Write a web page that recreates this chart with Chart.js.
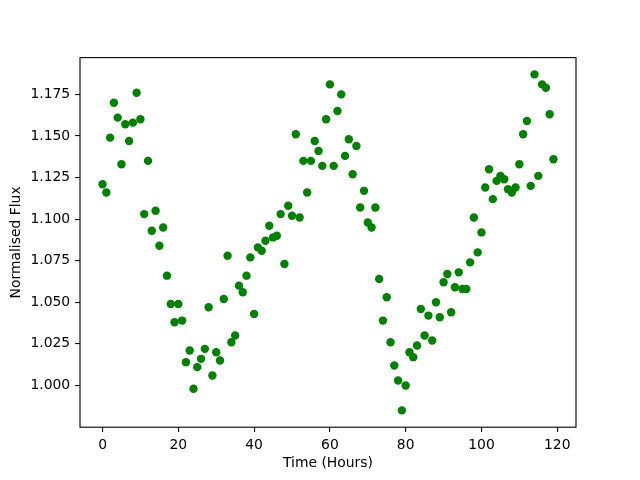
<!DOCTYPE html>
<html>
<head>
<meta charset="utf-8">
<script src="https://cdn.jsdelivr.net/npm/chart.js@4"></script>
<style>
  html, body { margin: 0; padding: 0; background: #fff; }
  #wrap { width: 640px; height: 480px; }
</style>
</head>
<body>
<div id="wrap"><canvas id="fluxChart" width="640" height="480"></canvas></div>
<script>
// Time in hours, one reading per hour
const hours = [
    0, 1, 2, 3, 4, 5, 6, 7, 8, 9, 10, 11, 12, 13, 14, 15, 16, 17, 18, 19,
    20, 21, 22, 23, 24, 25, 26, 27, 28, 29, 30, 31, 32, 33, 34, 35, 36, 37, 38, 39,
    40, 41, 42, 43, 44, 45, 46, 47, 48, 49, 50, 51, 52, 53, 54, 55, 56, 57, 58, 59,
    60, 61, 62, 63, 64, 65, 66, 67, 68, 69, 70, 71, 72, 73, 74, 75, 76, 77, 78, 79,
    80, 81, 82, 83, 84, 85, 86, 87, 88, 89, 90, 91, 92, 93, 94, 95, 96, 97, 98, 99,
    100, 101, 102, 103, 104, 105, 106, 107, 108, 109, 110, 111, 112, 113, 114, 115, 116, 117, 118, 119
];

// Normalised flux
const flux = [
    1.121, 1.116, 1.149, 1.170, 1.161, 1.133, 1.157, 1.147, 1.158, 1.176,
    1.160, 1.103, 1.135, 1.093, 1.105, 1.084, 1.095, 1.066, 1.049, 1.038,
    1.049, 1.039, 1.014, 1.021, 0.998, 1.011, 1.016, 1.022, 1.047, 1.006,
    1.020, 1.015, 1.052, 1.078, 1.026, 1.030, 1.060, 1.056, 1.066, 1.077,
    1.043, 1.083, 1.081, 1.087, 1.096, 1.089, 1.090, 1.103, 1.073, 1.108,
    1.102, 1.151, 1.101, 1.135, 1.116, 1.135, 1.147, 1.141, 1.132, 1.160,
    1.181, 1.132, 1.165, 1.175, 1.138, 1.148, 1.127, 1.144, 1.107, 1.117,
    1.098, 1.095, 1.107, 1.064, 1.039, 1.053, 1.026, 1.012, 1.003, 0.985,
    1.000, 1.020, 1.017, 1.024, 1.046, 1.030, 1.042, 1.027, 1.050, 1.041,
    1.062, 1.067, 1.044, 1.059, 1.068, 1.058, 1.058, 1.074, 1.101, 1.080,
    1.092, 1.119, 1.130, 1.112, 1.123, 1.126, 1.124, 1.118, 1.116, 1.119,
    1.133, 1.151, 1.159, 1.120, 1.187, 1.126, 1.181, 1.179, 1.163, 1.136
];

const xTicks = [0, 20, 40, 60, 80, 100, 120];
const yTicks = [1.000, 1.025, 1.050, 1.075, 1.100, 1.125, 1.150, 1.175];

// matplotlib-like 5% margins
function padRange(arr) {
    const lo = Math.min(...arr), hi = Math.max(...arr);
    const m = (hi - lo) * 0.05;
    return [lo - m, hi + m];
}
const [xMin, xMax] = padRange(hours);
const [yMin, yMax] = padRange(flux);

const FONT = { family: 'DejaVu Sans', size: 13.9 };

// box around the plot area (all four spines)
const frame = {
    id: 'frame',
    afterDraw(chart) {
        const a = chart.chartArea;
        const c = chart.ctx;
        c.save();
        c.strokeStyle = '#000';
        c.lineWidth = 1.1;
        c.strokeRect(a.left, a.top, a.right - a.left, a.bottom - a.top);
        c.restore();
    }
};

const ctx = document.getElementById('fluxChart').getContext('2d');
new Chart(ctx, {
    type: 'scatter',
    data: {
        datasets: [{
            label: 'Flux',
            data: hours.map((h, i) => ({ x: h, y: flux[i] })),
            backgroundColor: '#008000',
            borderColor: '#008000',
            borderWidth: 0,
            pointRadius: 4.2,
            pointHoverRadius: 4.2
        }]
    },
    options: {
        responsive: false,
        animation: false,
        layout: { padding: { top: 57.6, right: 64, left: 0, bottom: 0 } },
        plugins: {
            legend: { display: false },
            tooltip: { enabled: false }
        },
        scales: {
            x: {
                type: 'linear',
                min: xMin,
                max: xMax,
                afterBuildTicks: s => { s.ticks = xTicks.map(v => ({ value: v })); },
                afterFit: s => { s.height = 52.8; },
                grid: { display: true, drawOnChartArea: false, drawTicks: true, tickLength: 4.9, color: '#000', lineWidth: 1.1 },
                border: { display: false },
                ticks: {
                    color: '#000', font: FONT, padding: 4.9, maxRotation: 0,
                    callback: v => String(v)
                },
                title: {
                    display: true, text: 'Time (Hours)', color: '#000', font: FONT,
                    padding: { top: 0, bottom: 8.6 }
                }
            },
            y: {
                type: 'linear',
                min: yMin,
                max: yMax,
                afterBuildTicks: s => { s.ticks = yTicks.map(v => ({ value: v })); },
                afterFit: s => { s.width = 80; },
                grid: { display: true, drawOnChartArea: false, drawTicks: true, tickLength: 4.9, color: '#000', lineWidth: 1.1 },
                border: { display: false },
                ticks: {
                    color: '#000', font: FONT, padding: 4.9,
                    callback: v => v.toFixed(3)
                },
                title: {
                    display: true, text: 'Normalised Flux', color: '#000', font: FONT,
                    padding: { top: 7.6, bottom: 0 }
                }
            }
        }
    },
    plugins: [frame]
});
</script>
</body>
</html>
